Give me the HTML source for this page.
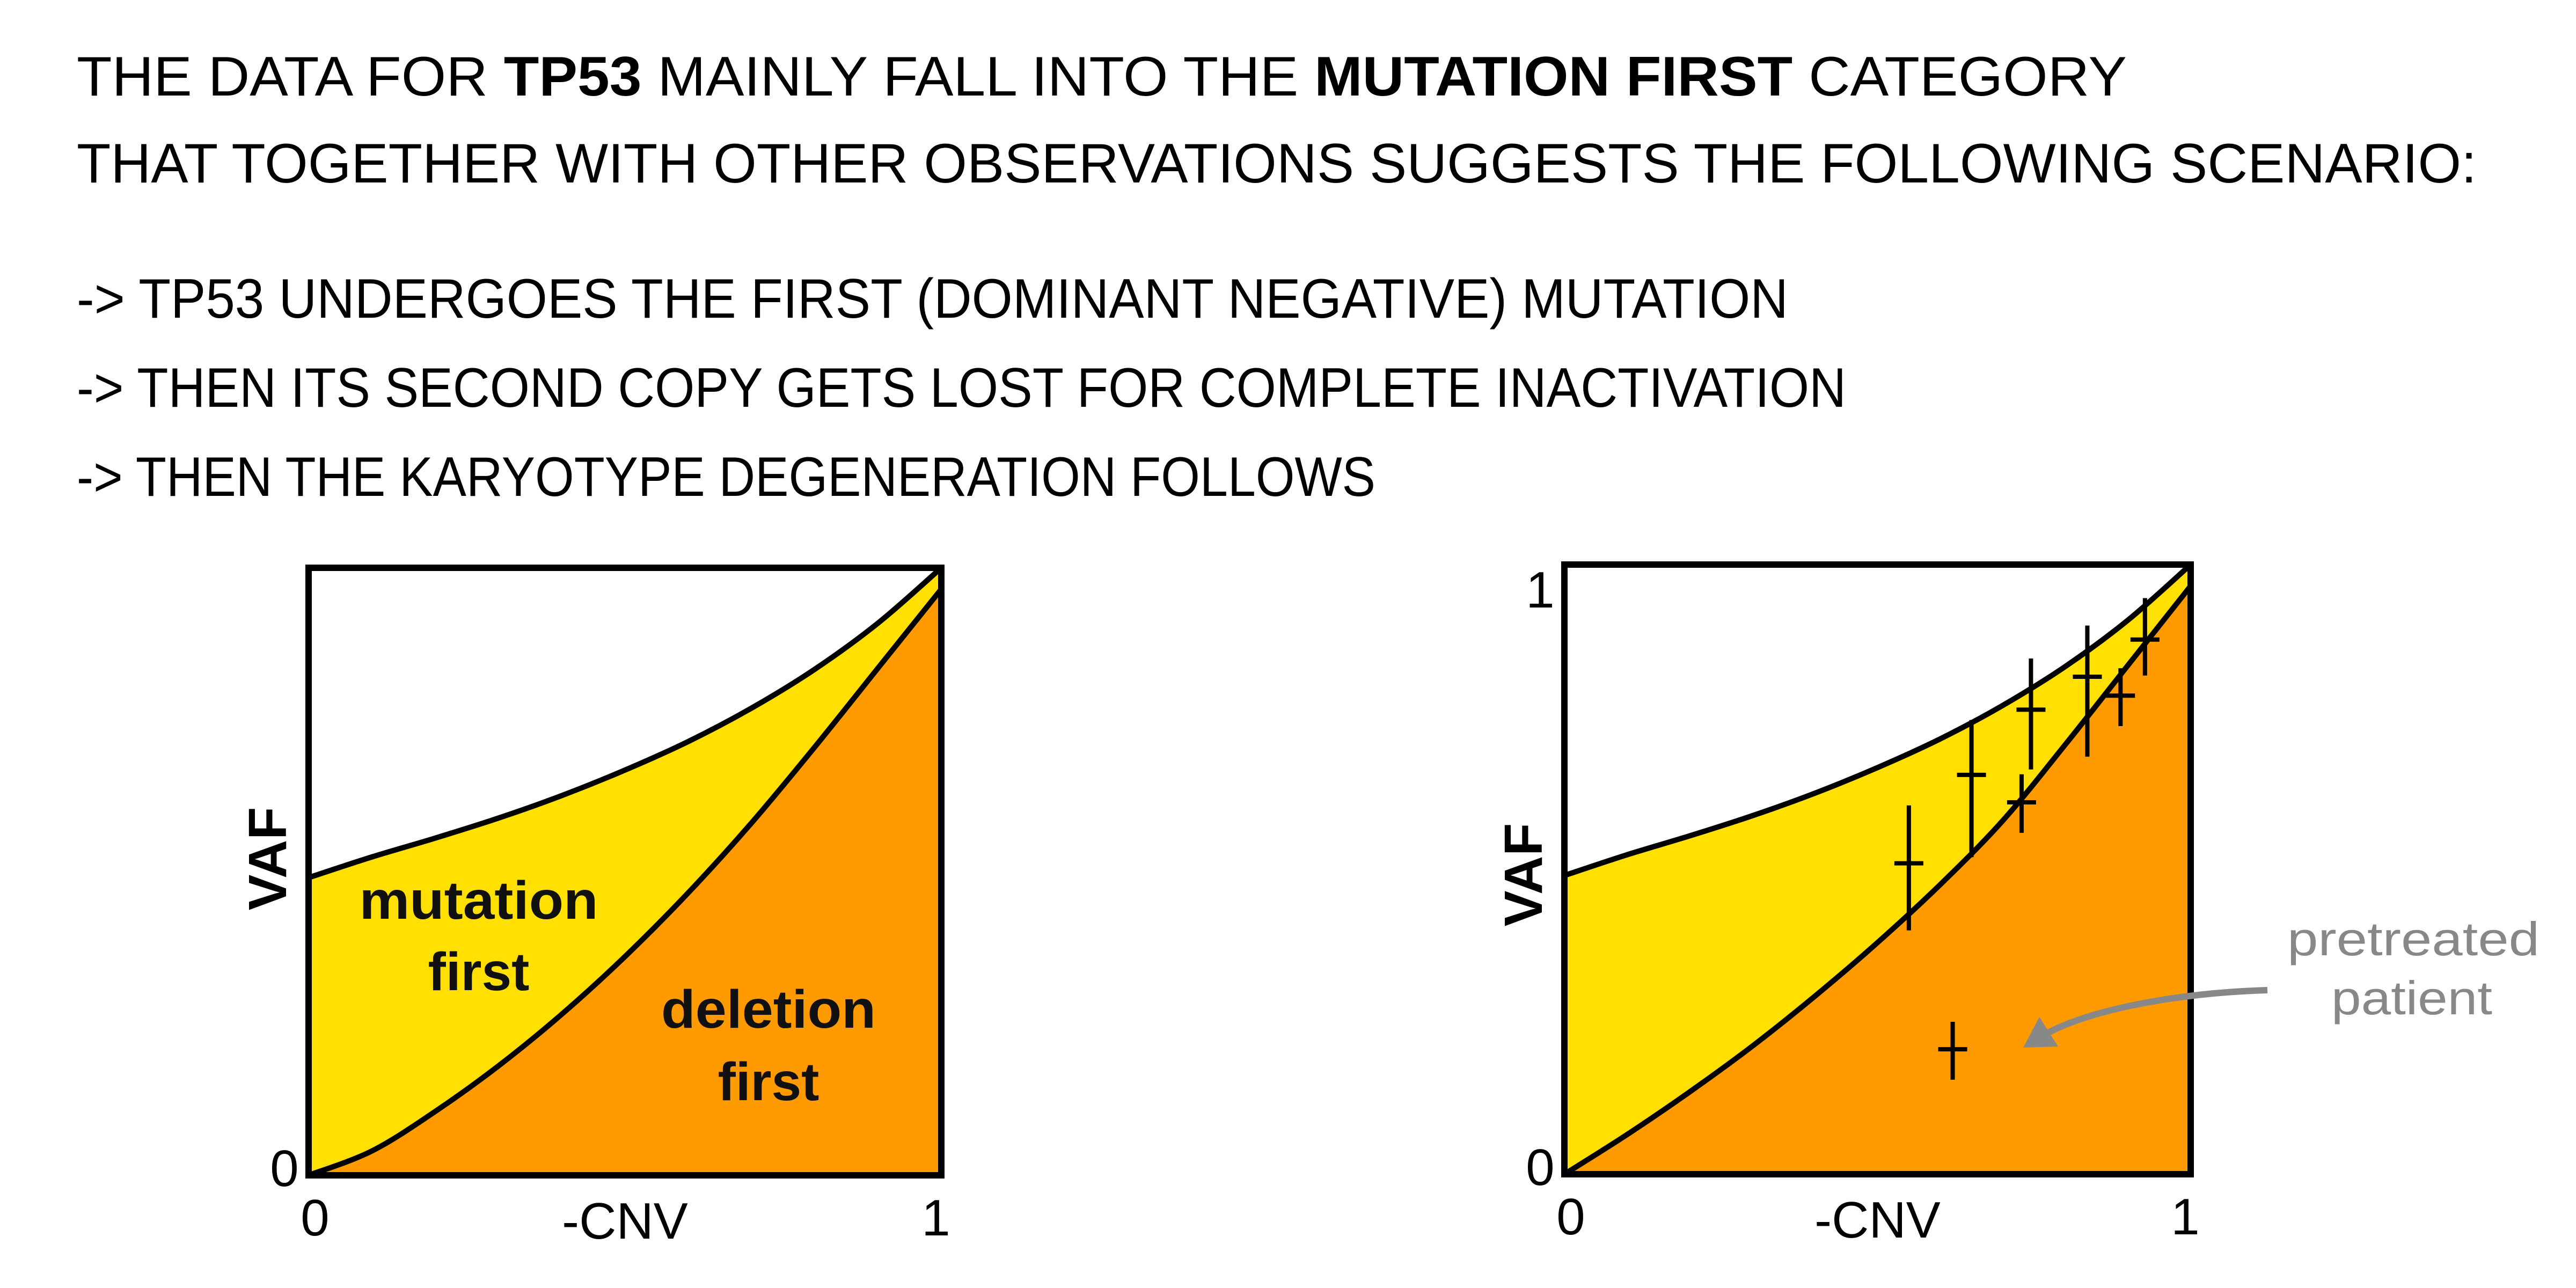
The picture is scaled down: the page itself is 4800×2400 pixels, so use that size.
<!DOCTYPE html>
<html><head><meta charset="utf-8"><style>
html,body{margin:0;padding:0;background:#fff;}
svg{display:block;font-family:"Liberation Sans",sans-serif;}
</style></head><body>
<svg id="s" width="4800" height="2400" viewBox="0 0 4800 2400" xmlns="http://www.w3.org/2000/svg">
<g font-size="104" fill="#000">
<text x="143" y="178" textLength="3820" lengthAdjust="spacingAndGlyphs">THE DATA FOR <tspan font-weight="bold">TP53</tspan>  MAINLY FALL INTO THE <tspan font-weight="bold">MUTATION FIRST</tspan> CATEGORY</text>
<text x="143" y="340" textLength="4472" lengthAdjust="spacingAndGlyphs">THAT TOGETHER WITH OTHER OBSERVATIONS SUGGESTS THE FOLLOWING SCENARIO:</text>
<text x="143" y="592" textLength="3189" lengthAdjust="spacingAndGlyphs">-&gt; TP53 UNDERGOES THE FIRST (DOMINANT NEGATIVE) MUTATION</text>
<text x="143" y="758" textLength="3297" lengthAdjust="spacingAndGlyphs">-&gt; THEN ITS SECOND COPY GETS LOST FOR COMPLETE INACTIVATION</text>
<text x="143" y="924" textLength="2420" lengthAdjust="spacingAndGlyphs">-&gt; THEN THE KARYOTYPE DEGENERATION FOLLOWS</text>
</g>
<g id="left"></g>
<g id="right"></g>
</svg>
<script>
const cnvGrid = [0,0.1,0.2,0.3,0.4,0.5,0.6,0.7,0.8,0.9,1];
const mutationFirstVAF = [0.49,0.524,0.555,0.588,0.625,0.667,0.714,0.769,0.833,0.909,1];
const deletionFirstVAFLeft = [0,0.04,0.105,0.18,0.265,0.36,0.465,0.58,0.705,0.835,0.965];
const deletionFirstVAFRight = [0,0.065,0.135,0.21,0.292,0.38,0.475,0.58,0.705,0.835,0.965];
const pointCNV = [0.55,0.65,0.73,0.745,0.835,0.888,0.927,0.62];
const pointVAF = [0.51,0.655,0.61,0.762,0.816,0.785,0.877,0.205];
const pointLow = [0.40,0.52,0.56,0.664,0.685,0.735,0.818,0.155];
const pointHigh = [0.605,0.745,0.656,0.846,0.90,0.83,0.945,0.25];
const xTicks = ['0','1'];
const NS='http://www.w3.org/2000/svg';
function mk(parent,tag,attrs,text){const e=document.createElementNS(NS,tag);for(const k in attrs)e.setAttribute(k,attrs[k]);if(text!==undefined)e.textContent=text;parent.appendChild(e);return e;}
function smooth(pts){let d='M'+pts[0][0]+','+pts[0][1];for(let i=0;i<pts.length-1;i++){const p0=pts[Math.max(0,i-1)],p1=pts[i],p2=pts[i+1],p3=pts[Math.min(pts.length-1,i+2)];const c1=[p1[0]+(p2[0]-p0[0])/6,p1[1]+(p2[1]-p0[1])/6],c2=[p2[0]-(p3[0]-p1[0])/6,p2[1]-(p3[1]-p1[1])/6];d+=' C'+c1[0]+','+c1[1]+' '+c2[0]+','+c2[1]+' '+p2[0]+','+p2[1];}return d;}
function chart(g,x0,x1,y0,y1,lower,opt){
  const sx=v=>x0+v*(x1-x0), sy=v=>y1-v*(y1-y0);
  const up=cnvGrid.map((c,i)=>[sx(c),sy(mutationFirstVAF[i])]);
  const lo=cnvGrid.map((c,i)=>[sx(c),sy(lower[i])]);
  const upD=smooth(up), loD=smooth(lo)+' L'+sx(1)+','+sy(1);
  let e;
  e=mk(g,'path',{d:upD+' L'+x1+','+y1+' L'+x0+','+y1+' Z',fill:'#FFE000'});
  
  
  e=mk(g,'path',{d:loD+' L'+x1+','+y1+' L'+x0+','+y1+' Z',fill:'#FF9A00'});
  
  
  e=mk(g,'path',{d:upD,fill:'none',stroke:'#000','stroke-width':10});
  
  
  e=mk(g,'path',{d:smooth(lo),fill:'none',stroke:'#000','stroke-width':10});
  
  
  e=mk(g,'rect',{x:x0,y:y0,width:x1-x0,height:y1-y0,fill:'none',stroke:'#000','stroke-width':12});
  
  
  const tf={'font-size':96,fill:'#000'};
  e=mk(g,'text',Object.assign({x:sx(0)+12,y:y1+112,'text-anchor':'middle'},tf),xTicks[0]);
  
  
  e=mk(g,'text',Object.assign({x:sx(1)-10,y:y1+112,'text-anchor':'middle'},tf),xTicks[1]);
  
  
  e=mk(g,'text',Object.assign({x:x0-45,y:y1+20,'text-anchor':'middle'},tf),'0');
  
  
  if(opt.yOne){e=mk(g,'text',Object.assign({x:x0-45,y:y0+80,'text-anchor':'middle'},tf),'1');
  
  }
  e=mk(g,'text',Object.assign({x:(x0+x1)/2,y:y1+118,'text-anchor':'middle'},tf),'-CNV');
  
  
  e=mk(g,'text',{x:0,y:0,'font-size':100,'font-weight':'bold','text-anchor':'middle',transform:'translate('+(x0-42)+','+opt.vafY+') rotate(-90)'},'VAF');
  
  
  return {sx,sy};
}
const L=document.getElementById('left');
chart(L,575,1754,1058,2190,deletionFirstVAFLeft,{yOne:false,vafY:1600});
const lab={'font-size':100,'font-weight':'bold','text-anchor':'middle',fill:'#111'};
let t;
t=mk(L,'text',Object.assign({x:892,y:1712,textLength:445,lengthAdjust:'spacingAndGlyphs'},lab),'mutation');


t=mk(L,'text',Object.assign({x:892,y:1845},lab),'first');


t=mk(L,'text',Object.assign({x:1432,y:1915,textLength:400,lengthAdjust:'spacingAndGlyphs'},lab),'deletion');


t=mk(L,'text',Object.assign({x:1432,y:2050},lab),'first');



const R=document.getElementById('right');
const a=chart(R,2915,4082,1052,2188,deletionFirstVAFRight,{yOne:true,vafY:1630});
for(let i=0;i<pointCNV.length;i++){
  const x=a.sx(pointCNV[i]), y=a.sy(pointVAF[i]);
  const p=mk(R,'path',{d:'M'+x+','+a.sy(pointHigh[i])+' L'+x+','+a.sy(pointLow[i])+' M'+(x-27)+','+y+' L'+(x+27)+','+y,stroke:'#000','stroke-width':8,fill:'none'});
  
  
}
const ann={'font-size':88,fill:'#888','text-anchor':'middle'};
t=mk(R,'text',Object.assign({x:4497,y:1780,textLength:470,lengthAdjust:'spacingAndGlyphs'},ann),'pretreated');


t=mk(R,'text',Object.assign({x:4494,y:1890,textLength:300,lengthAdjust:'spacingAndGlyphs'},ann),'patient');


t=mk(R,'path',{d:'M4225,1845 C4060,1850 3900,1880 3815,1925',stroke:'#888','stroke-width':12,fill:'none'});


t=mk(R,'path',{d:'M3770,1952 L3800,1895 L3835,1950 Z',fill:'#888'});


</script>
</body></html>
